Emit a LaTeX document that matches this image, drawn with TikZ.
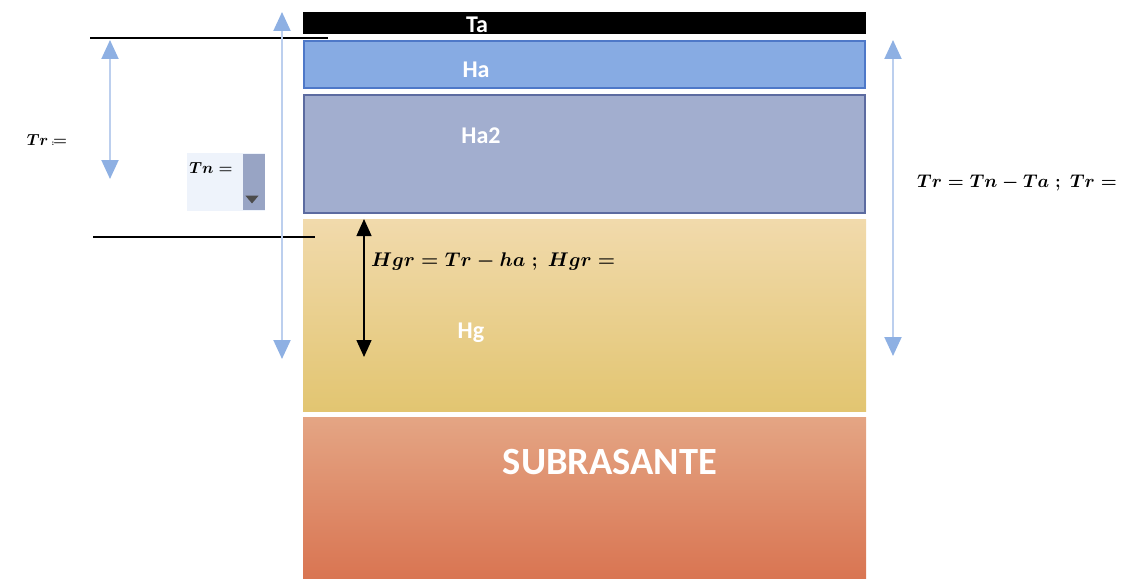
\RequirePackage{fix-cm}
\documentclass[tikz,border=0pt]{standalone}
\usepackage{fontspec}
\setmainfont{Carlito}
\usetikzlibrary{arrows.meta,shapes.geometric}
\definecolor{haFill}{HTML}{87ABE3}
\definecolor{haLine}{HTML}{4E78C8}
\definecolor{hbFill}{HTML}{A2AECF}
\definecolor{hbLine}{HTML}{5C6BA0}
\definecolor{hgTop}{HTML}{F1DAAC}
\definecolor{hgBot}{HTML}{E2C571}
\definecolor{sbTop}{HTML}{E4A584}
\definecolor{sbBot}{HTML}{D97552}
\definecolor{arrLine}{HTML}{BCCFEE}
\definecolor{arrHead}{HTML}{8EB0E3}
\definecolor{tnFill}{HTML}{EEF3FB}
\definecolor{tnBar}{HTML}{98A4C4}
\tikzset{
  layer/.style={minimum width=563pt, inner sep=0pt, outer sep=0pt},
  lbl/.style={text=white, font={\fontsize{24}{24}\selectfont\bfseries}, inner sep=0pt},
  blueArr/.style={line width=2pt, draw=arrLine, {Triangle[width=17pt,length=19pt,color=arrHead]}-{Triangle[width=17pt,length=19pt,color=arrHead]}},
  blackArr/.style={line width=1.4pt, draw=black, {Triangle[width=15pt,length=17pt]}-{Triangle[width=15pt,length=17pt]}},
  guide/.style={line width=1.1pt, draw=black},
  smalleq/.style={inner sep=0pt, font={\fontsize{16}{16}\selectfont\boldmath}}
}
\begin{document}
\begin{tikzpicture}[x=1pt,y=-1pt]
\useasboundingbox (0,0) rectangle (1121,578);
% layers
\node[layer, fill=black, minimum height=22pt, anchor=north west] (ta) at (303,12) {};
\node[layer, fill=haFill, draw=haLine, line width=2pt, minimum width=561pt, minimum height=47pt, anchor=north west] (ha) at (304,41) {};
\node[layer, fill=hbFill, draw=hbLine, line width=2pt, minimum width=561pt, minimum height=118pt, anchor=north west] (hb) at (304,95) {};
\node[layer, top color=hgTop, bottom color=hgBot, minimum height=192pt, anchor=north west] (hg) at (303,219) {};
\node[layer, top color=sbTop, bottom color=sbBot, minimum height=161pt, anchor=north west] (sb) at (303,417) {};
% labels
\node[lbl] (taT) at (477,25) {Ta};
\node[lbl] (haT) at (476,70) {Ha};
\node[lbl] (hbT) at (481,136) {Ha2};
\node[lbl] (hgT) at (471,333) {Hg};
\node[text=white, font={\fontsize{38.5}{38.5}\selectfont\bfseries}, inner sep=0pt] (sbT) at (610,462) {SUBRASANTE};
% guide lines
\coordinate (g1a) at (90,38);
\coordinate (g1b) at (328,38);
\coordinate (g2a) at (93,237);
\coordinate (g2b) at (315,237);
\draw[guide] (g1a) -- (g1b);
\draw[guide] (g2a) -- (g2b);
% blue arrows
\coordinate (l1) at (282,12);
\coordinate (l2) at (282,359);
\coordinate (s1) at (110,40);
\coordinate (s2) at (110,179);
\coordinate (r1) at (893,40);
\coordinate (r2) at (893,356);
\draw[blueArr] (l1) -- (l2);
\draw[blueArr] (s1) -- (s2);
\draw[blueArr] (r1) -- (r2);
% black arrow
\coordinate (b1) at (364,219);
\coordinate (b2) at (364,357);
\draw[blackArr] (b1) -- (b2);
% Tn box
\node[fill=tnFill, minimum width=78pt, minimum height=58pt, inner sep=0pt, anchor=north west] (tnbox) at (187,153) {};
\node[fill=tnBar, minimum width=22pt, minimum height=56pt, inner sep=0pt, anchor=north west] (tnbar) at (243,154) {};
\node[fill=black!70, isosceles triangle, shape border rotate=-90, isosceles triangle apex angle=80, minimum width=0pt, minimum height=0pt, inner sep=2.5pt] (tndrop) at (252,198) {};
\node[smalleq] (tnT) at (211,168) {$Tn =$};
\node[smalleq] (trL) at (47,140) {$Tr\,{\scriptscriptstyle:}\!\!=$};
% equations
\node[inner sep=0pt, font={\fontsize{18.3}{18.3}\selectfont\boldmath}, anchor=west] (eqR) at (917,183) {$Tr = Tn - Ta \;;\; Tr =$};
\node[inner sep=0pt, font={\fontsize{19.8}{19.8}\selectfont\boldmath}, anchor=west] (eqH) at (371,262) {$Hgr = Tr - ha \;;\; Hgr =$};
\end{tikzpicture}
\end{document}
